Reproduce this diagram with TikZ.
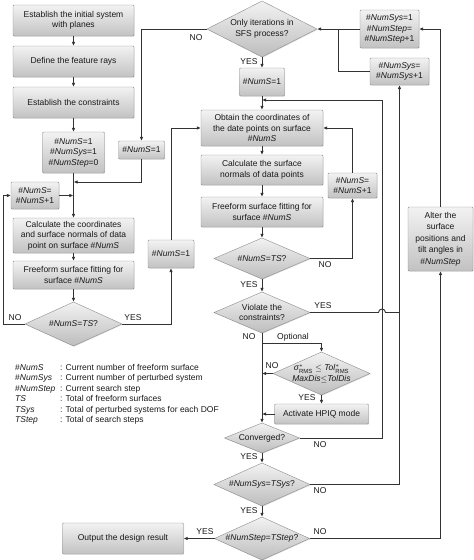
\documentclass[tikz,border=0pt]{standalone}
\usepackage{amsmath}
\usepackage{fontspec}
\setmainfont{Liberation Sans}
\usetikzlibrary{shapes.geometric, positioning, shadows}
\usetikzlibrary{arrows.meta}
\tikzset{>={Latex[width=3.6pt,length=4.2pt]}}

\begin{document}
\begin{tikzpicture}[x=1pt, y=-1pt, font=\fontsize{8.5}{10.5}\selectfont, text=black!90, procnode/.style={rectangle, rounded corners=1pt, draw=black!45, top color=black!5, bottom color=black!24, drop shadow={shadow xshift=0.7pt, shadow yshift=-0.7pt, opacity=0.25}, align=center, inner sep=1pt, outer sep=0pt, minimum width=121pt, minimum height=31pt}, decnode/.style={diamond, draw=black!45, top color=black!5, bottom color=black!26, drop shadow={shadow xshift=0.7pt, shadow yshift=-0.7pt, opacity=0.25}, align=center, inner sep=-3pt, outer sep=0pt}, txtnode/.style={draw=none, fill=none, inner sep=0pt}, flowline/.style={draw=black!80, line width=0.9pt}]

    \useasboundingbox (0,0) rectangle (474,560);

    %Nodes
    \node[procnode](establish_system) at (73.5,20.5){Establish the initial system\\with planes};
    \node[procnode](define_rays)[below=10pt of establish_system]{Define the feature rays};
    \node[procnode](establish_constraints)[below=10pt of define_rays]{Establish the constraints};
    \node[procnode, minimum width=62pt, minimum height=41pt](init_counters)[below=14pt of establish_constraints]{\#\textit{NumS}=1\\\#\textit{NumSys}=1\\\#\textit{NumStep}=0};
    \node[procnode, minimum width=46pt, minimum height=18pt](nums_reset_a)[right=14pt of init_counters, yshift=2.5pt]{\#\textit{NumS}=1};
    \node[procnode, minimum width=48pt, minimum height=27pt](nums_inc_a) at (35,195.5){\#\textit{NumS}=\\\#\textit{NumS}+1};
    \node[procnode, minimum height=35pt](calc_coords)[below=45pt of init_counters]{Calculate the coordinates\\and surface normals of data\\point on surface \#\textit{NumS}};
    \node[procnode, minimum height=28pt](fit_surface_a)[below=8pt of calc_coords]{Freeform surface fitting for\\surface \#\textit{NumS}};
    \node[decnode, minimum width=97pt, minimum height=44pt, aspect=2.2](check_ts_a)[below=13pt of fit_surface_a]{\#\textit{NumS}=\textit{TS}?};
    \node[procnode, minimum width=46pt, minimum height=28pt](nums_reset_b) at (171,254){\#\textit{NumS}=1};

    \node[decnode, minimum width=110pt, minimum height=56pt, aspect=2](only_sfs) at (262,29){Only iterations in\\SFS process?};
    \node[procnode, minimum width=45pt, minimum height=28pt](nums_reset_c)[below=11pt of only_sfs]{\#\textit{NumS}=1};
    \node[procnode, minimum width=122pt, minimum height=36pt](obtain_points)[below=14pt of nums_reset_c]{Obtain the coordinates of\\the date points on surface\\\#\textit{NumS}};
    \node[procnode, minimum width=122pt, minimum height=30pt](calc_normals)[below=9pt of obtain_points]{Calculate the surface\\normals of data points};
    \node[procnode, minimum width=122pt, minimum height=30pt](fit_surface_b)[below=12pt of calc_normals]{Freeform surface fitting for\\surface \#\textit{NumS}};
    \node[decnode, minimum width=96pt, minimum height=41pt, aspect=2.3](check_ts_b)[below=11pt of fit_surface_b]{\#\textit{NumS}=\textit{TS}?};
    \node[decnode, minimum width=96pt, minimum height=41pt, aspect=2.3](check_violate)[below=13pt of check_ts_b]{Violate the\\constraints?};
    \node[decnode, minimum width=97pt, minimum height=43pt, aspect=2.25](check_tol) at (321.5,373.5){\textit{σ}$^{*}_{\text{RMS}}$ $\le$ \textit{Tol}$^{*}_{\text{RMS}}$\\\textit{MaxDis}$\le$\textit{TolDis}};
    \node[procnode, minimum width=94pt, minimum height=20pt](activate_hpiq)[below=9pt of check_tol]{Activate HPIQ mode};
    \node[decnode, minimum width=75pt, minimum height=30pt, aspect=2.5](check_converged)[below=90pt of check_violate]{Converged?};
    \node[decnode, minimum width=96pt, minimum height=43pt, aspect=2.2](check_tsys)[below=10pt of check_converged]{\#\textit{NumSys}=\textit{TSys}?};
    \node[decnode, minimum width=95pt, minimum height=43pt, aspect=2.2](check_tstep)[below=11pt of check_tsys]{\#\textit{NumStep}=\textit{TStep}?};
    \node[procnode](output_result)[left=31pt of check_tstep]{Output the design result};

    \node[procnode, minimum width=59pt, minimum height=38pt](nsys_reset)[right=43pt of only_sfs]{\#\textit{NumSys}=1\\\#\textit{NumStep}=\\\#\textit{NumStep}+1};
    \node[procnode, minimum width=59pt, minimum height=27pt](nsys_inc) at (399.5,71.5){\#\textit{NumSys}=\\\#\textit{NumSys}+1};
    \node[procnode, minimum width=49pt, minimum height=25pt](nums_inc_b) at (352.5,185.5){\#\textit{NumS}=\\\#\textit{NumS}+1};
    \node[procnode, minimum width=65pt, minimum height=64pt, font=\fontsize{8.5}{11.5}\selectfont](alter_surface) at (440.5,239){Alter the\\surface\\positions and\\tilt angles in\\\#\textit{NumStep}};

    \node[txtnode, anchor=north west](legend) at (15,362.5){\begin{tabular}{@{}p{45pt}@{}l@{}}
      \#\textit{NumS} & : Current number of freeform surface\\
      \#\textit{NumSys} & : Current number of perturbed system\\
      \#\textit{NumStep} & : Current search step\\
      \textit{TS} & : Total of freeform surfaces\\
      \textit{TSys} & : Total of perturbed systems for each DOF\\
      \textit{TStep} & : Total of search steps
    \end{tabular}};

    %Labels
    \node[txtnode](no_sfs) at (196,38){NO};
    \node[txtnode](yes_sfs) at (249,62){YES};
    \node[txtnode](no_ts_a) at (15,318){NO};
    \node[txtnode](yes_ts_a) at (133,318){YES};
    \node[txtnode](no_ts_b) at (325,265){NO};
    \node[txtnode](yes_ts_b) at (249,285){YES};
    \node[txtnode](yes_violate) at (323,306){YES};
    \node[txtnode](no_violate) at (249,337){NO};
    \node[txtnode](optional) at (293,337){Optional};
    \node[txtnode](no_tol) at (272,366){NO};
    \node[txtnode](yes_tol) at (307,398){YES};
    \node[txtnode](no_converged) at (320,445){NO};
    \node[txtnode](yes_converged) at (249,457){YES};
    \node[txtnode](no_tsys) at (320,491){NO};
    \node[txtnode](yes_tsys) at (249,511){YES};
    \node[txtnode](no_tstep) at (320,532){NO};
    \node[txtnode](yes_tstep) at (205,532){YES};

    \coordinate (join_a) at (73.5,182);
    \coordinate (left_turn) at (3,324);
    \coordinate (conv_top) at (382,100);
    \coordinate (opt_split) at (262,343);
    \coordinate (sys_join) at (338,29);

    %Lines
    \draw[flowline, ->] (establish_system.south) -- (define_rays.north);
    \draw[flowline, ->] (define_rays.south) -- (establish_constraints.north);
    \draw[flowline, ->] (establish_constraints.south) -- (init_counters.north);
    \draw[flowline, ->] (init_counters.south) -- (calc_coords.north);
    \draw[flowline, ->] (only_sfs.west) -| (nums_reset_a.north);
    \draw[flowline, ->] (nums_reset_a.south) |- (join_a);
    \draw[flowline, ->] (nums_inc_a.east) -- (nums_inc_a.east -| calc_coords.north);
    \draw[flowline, ->] (calc_coords.south) -- (fit_surface_a.north);
    \draw[flowline, ->] (fit_surface_a.south) -- (check_ts_a.north);
    \draw[flowline, ->] (check_ts_a.west) -- (left_turn) |- (nums_inc_a.west);
    \draw[flowline, ->] (check_ts_a.east) -| (nums_reset_b.south);
    \draw[flowline, ->] (nums_reset_b.north) |- (obtain_points.west);
    \draw[flowline, ->] (only_sfs.south) -- (nums_reset_c.north);
    \draw[flowline, ->] (nums_reset_c.south) -- (obtain_points.north);
    \draw[flowline, ->] (obtain_points.south) -- (calc_normals.north);
    \draw[flowline, ->] (calc_normals.south) -- (fit_surface_b.north);
    \draw[flowline, ->] (fit_surface_b.south) -- (check_ts_b.north);
    \draw[flowline, ->] (check_ts_b.east) -| (nums_inc_b.south);
    \draw[flowline, ->] (nums_inc_b.north) |- (obtain_points.east);
    \draw[flowline, ->] (check_ts_b.south) -- (check_violate.north);
    \draw[flowline, ->] (check_violate.south) -- (check_converged.north);
    \draw[flowline, ->] (opt_split) -| (check_tol.north);
    \draw[flowline, ->] (check_tol.west) -- (check_tol.west -| check_violate.south);
    \draw[flowline, ->] (check_tol.south) -- (activate_hpiq.north);
    \draw[flowline, ->] (activate_hpiq.west) -- (activate_hpiq.west -| check_violate.south);
    \draw[flowline, ->] (check_converged.east) -| (conv_top) -- (conv_top -| obtain_points.north);
    \draw[flowline] (check_violate.east) -- ++(68.5,0) arc[start angle=180, end angle=0, radius=3.5pt] -- ++(14,0);
    \draw[flowline, ->] (check_converged.south) -- (check_tsys.north);
    \draw[flowline, ->] (check_tsys.east) -| (nsys_inc.south);
    \draw[flowline] (nsys_inc.west) -| (sys_join);
    \draw[flowline, ->] (nsys_reset.west) -- (only_sfs.east);
    \draw[flowline, ->] (check_tsys.south) -- (check_tstep.north);
    \draw[flowline, ->] (check_tstep.west) -- (output_result.east);
    \draw[flowline, ->] (check_tstep.east) -| (alter_surface.south);
    \draw[flowline, ->] (alter_surface.north) |- (nsys_reset.east);

\end{tikzpicture}
\end{document}
